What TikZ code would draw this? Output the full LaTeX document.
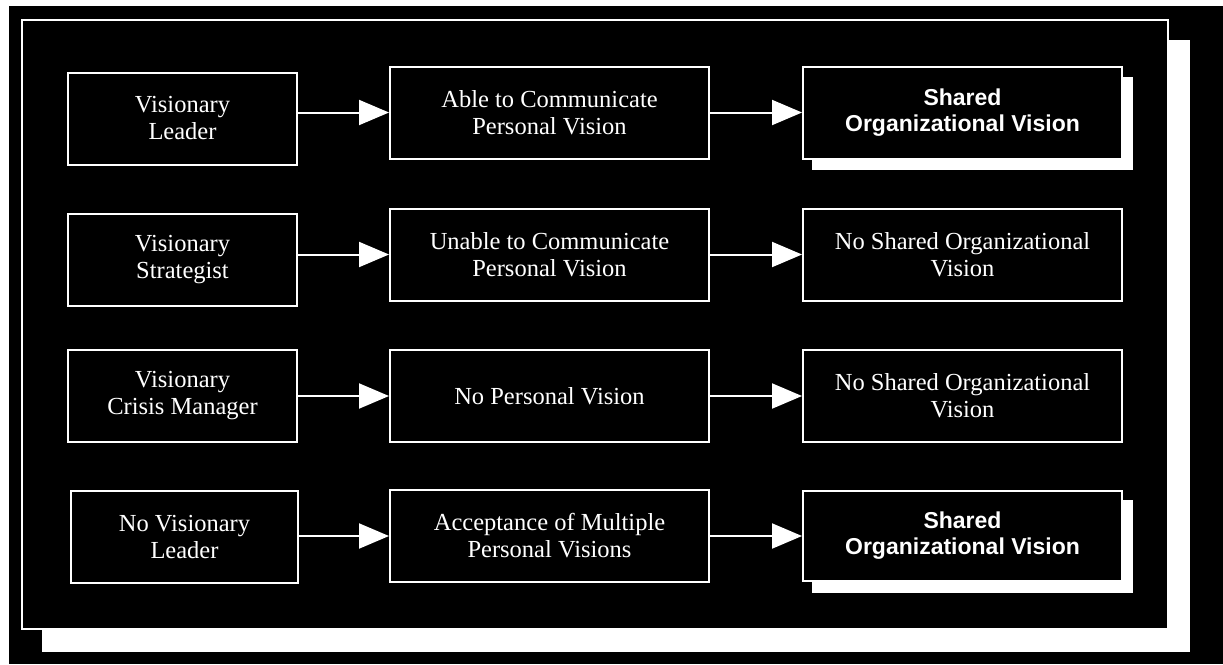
\documentclass[tikz,border=0pt]{standalone}
\usepackage{fontspec}
\setmainfont{Liberation Serif}
\newfontfamily\boldsans{Liberation Sans}
\usetikzlibrary{arrows.meta}
\tikzset{
  box/.style={draw=white, line width=2pt, fill=black, text=white, inner sep=0pt,
    minimum width=229pt, minimum height=92pt, align=center,
    font=\fontsize{24.5}{27}\selectfont},
  widebox/.style={box, minimum width=319pt},
  boldbox/.style={widebox, font=\boldsans\bfseries\fontsize{23}{26}\selectfont},
  arr/.style={draw=white, line width=2pt, -{Triangle[length=30pt,width=25pt]}},
  shadowfill/.style={fill=white}
}
\begin{document}
\begin{tikzpicture}[x=1pt,y=-1pt]
\useasboundingbox (0,0) rectangle (1223,664);
% background
\fill[black] (0,0) rectangle (1223,664);
\fill[white] (0,0) rectangle (1223,6);
\fill[white] (0,0) rectangle (9,664);
% panel with shadow
\fill[shadowfill] (42,40) rectangle (1190,652);
\draw[draw=white, line width=2pt, fill=black] (22,20) rectangle (1168,629);

% row 1
\node[box] (L1) at (182.5,118.5) {Visionary\\Leader};
\node[widebox] (M1) at (549.5,112.5) {Able to Communicate\\Personal Vision};
\fill[shadowfill] (812,77) rectangle (1133,170);
\node[boldbox] (R1) at (962.5,112.5) {Shared\\Organizational Vision};

% row 2
\node[box] (L2) at (182.5,259.5) {Visionary\\Strategist};
\node[widebox] (M2) at (549.5,254.5) {Unable to Communicate\\Personal Vision};
\node[widebox] (R2) at (962.5,254.5) {No Shared Organizational\\Vision};

% row 3
\node[box] (L3) at (182.5,396) {Visionary\\Crisis Manager};
\node[widebox] (M3) at (549.5,396) {No Personal Vision};
\node[widebox] (R3) at (962.5,396) {No Shared Organizational\\Vision};

% row 4
\node[box, minimum width=227pt] (L4) at (184.5,536.5) {No Visionary\\Leader};
\node[widebox] (M4) at (549.5,536) {Acceptance of Multiple\\Personal Visions};
\fill[shadowfill] (812,500) rectangle (1133,593);
\node[boldbox, minimum height=90pt] (R4) at (962.5,536) {Shared\\Organizational Vision};

% arrows
\foreach \i in {1,2,3,4}{
  \draw[arr] (L\i.east |- M\i.west) -- (M\i.west);
  \draw[arr] (M\i.east) -- (R\i.west);
}
\end{tikzpicture}
\end{document}
